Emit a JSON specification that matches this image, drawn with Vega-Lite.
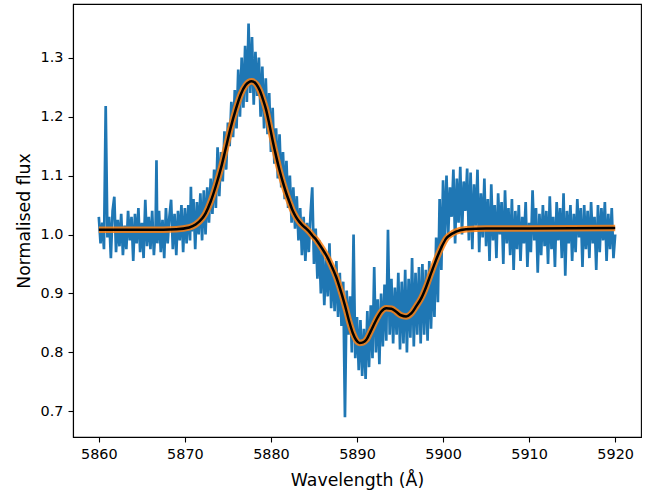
{
  "$schema": "https://vega.github.io/schema/vega-lite/v6.json",
  "width": 568,
  "height": 433,
  "autosize": "none",
  "padding": {"left": 73, "top": 4, "right": 21, "bottom": 57},
  "background": "white",
  "config": {
    "font": "DejaVu Sans",
    "view": {"stroke": "black", "strokeWidth": 1.1},
    "axis": {
      "grid": false,
      "domainColor": "black",
      "domainWidth": 1.1,
      "tickColor": "black",
      "tickWidth": 1.1,
      "tickSize": 5,
      "labelColor": "black",
      "labelFont": "DejaVu Sans",
      "labelFontSize": 14.4,
      "titleFont": "DejaVu Sans",
      "titleFontSize": 17.3,
      "titleFontWeight": "normal",
      "titleColor": "black"
    }
  },
  "datasets": {
    "spec": [
      {"w":5860.0,"f":1.030},{"w":5860.2,"f":0.985},{"w":5860.4,"f":1.020},{"w":5860.6,"f":0.975},{"w":5860.8,"f":1.218},
      {"w":5861.0,"f":0.995},{"w":5861.2,"f":1.030},{"w":5861.4,"f":0.960},{"w":5861.6,"f":1.040},{"w":5861.8,"f":1.064},
      {"w":5862.0,"f":0.970},{"w":5862.2,"f":1.025},{"w":5862.4,"f":0.980},{"w":5862.6,"f":1.035},{"w":5862.8,"f":0.965},
      {"w":5863.0,"f":1.015},{"w":5863.2,"f":0.975},{"w":5863.4,"f":1.040},{"w":5863.6,"f":0.990},{"w":5863.8,"f":1.030},
      {"w":5864.0,"f":0.955},{"w":5864.2,"f":1.035},{"w":5864.4,"f":0.985},{"w":5864.6,"f":1.045},{"w":5864.8,"f":0.970},
      {"w":5865.0,"f":1.020},{"w":5865.2,"f":0.960},{"w":5865.4,"f":1.059},{"w":5865.6,"f":0.980},{"w":5865.8,"f":1.030},
      {"w":5866.0,"f":0.975},{"w":5866.2,"f":1.040},{"w":5866.4,"f":0.965},{"w":5866.6,"f":1.015},{"w":5866.7,"f":1.126},
      {"w":5866.8,"f":0.985},{"w":5867.0,"f":1.040},{"w":5867.2,"f":0.970},{"w":5867.4,"f":1.025},{"w":5867.6,"f":0.960},
      {"w":5867.8,"f":1.045},{"w":5868.0,"f":0.985},{"w":5868.2,"f":1.030},{"w":5868.4,"f":1.059},{"w":5868.6,"f":0.975},
      {"w":5868.8,"f":1.035},{"w":5869.0,"f":0.965},{"w":5869.2,"f":1.040},{"w":5869.4,"f":0.990},{"w":5869.6,"f":1.050},
      {"w":5869.8,"f":0.970},{"w":5870.0,"f":1.045},
      {"w":5870.2,"f":0.985},{"w":5870.4,"f":1.050},{"w":5870.6,"f":0.990},{"w":5870.7,"f":1.081},{"w":5870.8,"f":1.005},
      {"w":5871.0,"f":1.060},{"w":5871.2,"f":0.975},{"w":5871.4,"f":1.055},{"w":5871.6,"f":1.000},{"w":5871.8,"f":1.070},
      {"w":5872.0,"f":0.990},
      {"w":5872.2,"f":1.075},{"w":5872.4,"f":1.000},{"w":5872.6,"f":1.080},{"w":5872.8,"f":1.020},{"w":5873.0,"f":1.095},
      {"w":5873.2,"f":1.035},{"w":5873.4,"f":1.110},{"w":5873.6,"f":1.045},{"w":5873.8,"f":1.148},{"w":5874.0,"f":1.065},
      {"w":5874.2,"f":1.140},{"w":5874.4,"f":1.090},{"w":5874.6,"f":1.175},{"w":5874.8,"f":1.110},{"w":5875.0,"f":1.190},
      {"w":5875.2,"f":1.150},{"w":5875.4,"f":1.225},{"w":5875.6,"f":1.165},{"w":5875.8,"f":1.245},{"w":5876.0,"f":1.180},
      {"w":5876.2,"f":1.280},{"w":5876.4,"f":1.200},{"w":5876.6,"f":1.300},{"w":5876.8,"f":1.215},{"w":5877.0,"f":1.320},
      {"w":5877.2,"f":1.225},{"w":5877.4,"f":1.358},{"w":5877.6,"f":1.240},{"w":5877.8,"f":1.335},{"w":5878.0,"f":1.220},
      {"w":5878.2,"f":1.310},{"w":5878.4,"f":1.235},{"w":5878.6,"f":1.300},{"w":5878.8,"f":1.200},{"w":5879.0,"f":1.285},
      {"w":5879.2,"f":1.180},{"w":5879.4,"f":1.265},{"w":5879.6,"f":1.170},{"w":5879.8,"f":1.240},{"w":5880.0,"f":1.140},
      {"w":5880.2,"f":1.215},{"w":5880.4,"f":1.120},{"w":5880.6,"f":1.180},{"w":5880.8,"f":1.095},{"w":5881.0,"f":1.170},
      {"w":5881.2,"f":1.080},{"w":5881.4,"f":1.140},{"w":5881.6,"f":1.060},{"w":5881.8,"f":1.125},{"w":5882.0,"f":1.045},
      {"w":5882.2,"f":1.100},{"w":5882.4,"f":1.020},{"w":5882.6,"f":1.080},{"w":5882.8,"f":1.010},{"w":5883.0,"f":1.065},
      {"w":5883.2,"f":0.990},{"w":5883.4,"f":1.045},{"w":5883.6,"f":0.965},{"w":5883.8,"f":1.030},{"w":5884.0,"f":0.955},
      {"w":5884.2,"f":1.020},{"w":5884.4,"f":0.970},{"w":5884.6,"f":1.035},{"w":5884.8,"f":1.080},{"w":5885.0,"f":0.950},
      {"w":5885.2,"f":1.010},
      {"w":5885.4,"f":0.925},{"w":5885.6,"f":0.990},{"w":5885.8,"f":0.900},{"w":5886.0,"f":0.975},{"w":5886.2,"f":0.880},
      {"w":5886.4,"f":0.960},{"w":5886.6,"f":0.895},{"w":5886.8,"f":0.985},{"w":5887.0,"f":0.875},{"w":5887.2,"f":0.945},
      {"w":5887.4,"f":0.870},
      {"w":5887.6,"f":0.955},{"w":5887.8,"f":0.860},{"w":5888.0,"f":0.935},{"w":5888.2,"f":0.845},{"w":5888.4,"f":0.920},
      {"w":5888.6,"f":0.690},{"w":5888.8,"f":0.905},{"w":5889.0,"f":0.830},{"w":5889.2,"f":0.895},
      {"w":5889.4,"f":0.800},{"w":5889.6,"f":1.000},{"w":5889.8,"f":0.790},{"w":5890.0,"f":0.860},{"w":5890.2,"f":0.770},
      {"w":5890.4,"f":0.855},{"w":5890.6,"f":0.760},{"w":5890.8,"f":0.840},{"w":5891.0,"f":0.755},{"w":5891.2,"f":0.870},
      {"w":5891.4,"f":0.775},{"w":5891.6,"f":0.880},{"w":5891.8,"f":0.790},{"w":5892.0,"f":0.945},{"w":5892.2,"f":0.800},
      {"w":5892.4,"f":0.890},{"w":5892.6,"f":0.780},{"w":5892.8,"f":0.900},{"w":5893.0,"f":0.810},
      {"w":5893.2,"f":0.915},{"w":5893.4,"f":0.820},{"w":5893.6,"f":1.008},{"w":5893.8,"f":0.830},{"w":5894.0,"f":0.925},
      {"w":5894.2,"f":0.815},{"w":5894.4,"f":0.910},{"w":5894.6,"f":0.830},{"w":5894.8,"f":0.935},{"w":5895.0,"f":0.805},
      {"w":5895.2,"f":0.920},{"w":5895.4,"f":0.815},{"w":5895.6,"f":0.940},{"w":5895.8,"f":0.800},{"w":5896.0,"f":0.925},
      {"w":5896.2,"f":0.825},{"w":5896.4,"f":0.960},{"w":5896.6,"f":0.810},{"w":5896.8,"f":0.935},{"w":5897.0,"f":0.830},
      {"w":5897.2,"f":0.945},{"w":5897.4,"f":0.815},{"w":5897.6,"f":0.950},{"w":5897.8,"f":0.830},{"w":5898.0,"f":0.940},
      {"w":5898.2,"f":0.820},{"w":5898.4,"f":0.955},{"w":5898.6,"f":0.840},{"w":5898.8,"f":0.945},{"w":5899.0,"f":0.860},
      {"w":5899.2,"f":0.995},{"w":5899.4,"f":0.885},{"w":5899.6,"f":1.060},{"w":5899.8,"f":0.940},{"w":5900.0,"f":1.092},
      {"w":5900.2,"f":0.990},
      {"w":5900.4,"f":1.100},{"w":5900.6,"f":1.000},{"w":5900.8,"f":1.080},{"w":5901.0,"f":1.030},{"w":5901.2,"f":1.110},
      {"w":5901.4,"f":0.985},{"w":5901.6,"f":1.095},{"w":5901.8,"f":1.020},{"w":5902.0,"f":1.115},{"w":5902.2,"f":1.000},
      {"w":5902.4,"f":1.090},{"w":5902.6,"f":1.040},{"w":5902.8,"f":1.112},{"w":5903.0,"f":0.990},
      {"w":5903.2,"f":1.105},{"w":5903.4,"f":0.975},{"w":5903.6,"f":1.085},{"w":5903.8,"f":1.015},{"w":5904.0,"f":1.110},
      {"w":5904.2,"f":0.970},{"w":5904.4,"f":1.070},{"w":5904.6,"f":0.995},{"w":5904.8,"f":1.095},{"w":5905.0,"f":0.980},
      {"w":5905.2,"f":1.060},{"w":5905.4,"f":0.955},{"w":5905.6,"f":1.085},{"w":5905.8,"f":0.990},{"w":5906.0,"f":1.050},
      {"w":5906.2,"f":0.960},{"w":5906.4,"f":1.070},{"w":5906.6,"f":1.000},{"w":5906.8,"f":1.055},{"w":5907.0,"f":0.950},
      {"w":5907.2,"f":1.075},{"w":5907.4,"f":0.985},{"w":5907.6,"f":1.045},{"w":5907.8,"f":0.965},{"w":5908.0,"f":1.060},
      {"w":5908.2,"f":0.940},{"w":5908.4,"f":1.040},{"w":5908.6,"f":0.975},{"w":5908.8,"f":1.050},{"w":5909.0,"f":0.955},
      {"w":5909.2,"f":1.030},{"w":5909.4,"f":0.985},{"w":5909.6,"f":1.055},{"w":5909.8,"f":0.945},{"w":5910.0,"f":1.020},
      {"w":5910.2,"f":0.970},{"w":5910.4,"f":1.075},{"w":5910.6,"f":0.990},{"w":5910.8,"f":1.045},{"w":5911.0,"f":0.935},
      {"w":5911.2,"f":1.035},{"w":5911.4,"f":0.965},{"w":5911.6,"f":1.050},{"w":5911.8,"f":0.980},{"w":5912.0,"f":1.040},
      {"w":5912.2,"f":0.950},{"w":5912.4,"f":1.065},{"w":5912.6,"f":0.975},{"w":5912.8,"f":1.030},{"w":5913.0,"f":0.945},
      {"w":5913.2,"f":1.055},{"w":5913.4,"f":0.990},{"w":5913.6,"f":1.045},{"w":5913.8,"f":0.960},{"w":5914.0,"f":1.070},
      {"w":5914.2,"f":0.930},{"w":5914.4,"f":1.040},{"w":5914.6,"f":0.985},{"w":5914.8,"f":1.050},{"w":5915.0,"f":0.955},
      {"w":5915.2,"f":1.035},{"w":5915.4,"f":0.970},{"w":5915.6,"f":1.060},{"w":5915.8,"f":0.995},{"w":5916.0,"f":1.045},
      {"w":5916.2,"f":0.945},{"w":5916.4,"f":1.050},{"w":5916.6,"f":0.975},{"w":5916.8,"f":1.040},{"w":5917.0,"f":0.960},
      {"w":5917.2,"f":1.055},{"w":5917.4,"f":0.985},{"w":5917.6,"f":1.030},{"w":5917.8,"f":0.940},{"w":5918.0,"f":1.050},
      {"w":5918.2,"f":0.970},{"w":5918.4,"f":1.045},{"w":5918.6,"f":0.990},{"w":5918.8,"f":1.055},{"w":5919.0,"f":0.955},
      {"w":5919.2,"f":1.035},{"w":5919.4,"f":0.975},{"w":5919.6,"f":1.045},{"w":5919.8,"f":0.960},{"w":5920.0,"f":1.000}
    ],
    "fit": [
      {"w":5860,"f":1.008},{"w":5866,"f":1.008},{"w":5869,"f":1.009},{"w":5870.5,"f":1.012},{"w":5871.25,"f":1.017},
      {"w":5872,"f":1.027},{"w":5872.4,"f":1.036},{"w":5873,"f":1.056},{"w":5873.57,"f":1.081},{"w":5874.2,"f":1.113},
      {"w":5874.73,"f":1.145},{"w":5875.3,"f":1.180},{"w":5875.89,"f":1.211},{"w":5876.5,"f":1.238},{"w":5877.05,"f":1.253},
      {"w":5877.75,"f":1.260},{"w":5878.3,"f":1.255},{"w":5878.68,"f":1.245},{"w":5879.1,"f":1.228},{"w":5879.45,"f":1.211},
      {"w":5879.8,"f":1.188},{"w":5880.19,"f":1.160},{"w":5880.6,"f":1.133},{"w":5881.0,"f":1.109},{"w":5881.4,"f":1.088},
      {"w":5881.78,"f":1.070},{"w":5882.2,"f":1.053},{"w":5882.51,"f":1.041},{"w":5882.9,"f":1.030},{"w":5883.33,"f":1.021},
      {"w":5883.7,"f":1.015},{"w":5884.1,"f":1.010},{"w":5884.5,"f":1.004},{"w":5884.83,"f":0.998},{"w":5885.26,"f":0.991},
      {"w":5885.64,"f":0.983},{"w":5886.0,"f":0.975},{"w":5886.42,"f":0.965},{"w":5887.0,"f":0.948},{"w":5887.58,"f":0.928},
      {"w":5888.2,"f":0.900},{"w":5888.74,"f":0.872},{"w":5889.1,"f":0.852},{"w":5889.51,"f":0.833},{"w":5889.9,"f":0.821},
      {"w":5890.29,"f":0.816},{"w":5890.7,"f":0.817},{"w":5891.06,"f":0.821},{"w":5891.6,"f":0.836},{"w":5892.23,"f":0.855},
      {"w":5892.8,"f":0.869},{"w":5893.39,"f":0.875},{"w":5894.0,"f":0.874},{"w":5894.55,"f":0.869},{"w":5895.1,"f":0.863},
      {"w":5895.71,"f":0.861},{"w":5896.3,"f":0.866},{"w":5896.87,"f":0.878},{"w":5897.5,"f":0.893},{"w":5898.03,"f":0.911},
      {"w":5898.6,"f":0.934},{"w":5899.19,"f":0.957},{"w":5899.8,"f":0.978},{"w":5900.35,"f":0.993},{"w":5901.0,"f":1.001},
      {"w":5901.51,"f":1.005},{"w":5902.67,"f":1.009},{"w":5905,"f":1.010},{"w":5910,"f":1.010},{"w":5920,"f":1.011}
    ]
  },
  "encoding": {
    "x": {
      "field": "w", "type": "quantitative",
      "scale": {"domain": [5857, 5923], "nice": false, "zero": false},
      "axis": {
        "title": "Wavelength (Å)",
        "values": [5860, 5870, 5880, 5890, 5900, 5910, 5920],
        "format": "d",
        "labelPadding": 5,
        "titleBaseline": "alphabetic",
        "titleY": 48
      }
    },
    "y": {
      "field": "f", "type": "quantitative",
      "scale": {"domain": [0.6565, 1.391], "nice": false, "zero": false},
      "axis": {
        "title": "Normalised flux",
        "values": [0.7, 0.8, 0.9, 1.0, 1.1, 1.2, 1.3],
        "format": ".1f",
        "labelPadding": 5,
        "titleBaseline": "alphabetic",
        "titleX": -44
      }
    }
  },
  "layer": [
    {"data": {"name": "spec"}, "mark": {"type": "line", "color": "#1f77b4", "strokeWidth": 2.7, "interpolate": "linear"}},
    {"data": {"name": "fit"}, "mark": {"type": "line", "color": "#ff7f0e", "strokeWidth": 6.5, "opacity": 0.85, "interpolate": "monotone"}},
    {"data": {"name": "fit"}, "mark": {"type": "line", "color": "black", "strokeWidth": 2.5, "interpolate": "monotone"}}
  ]
}
